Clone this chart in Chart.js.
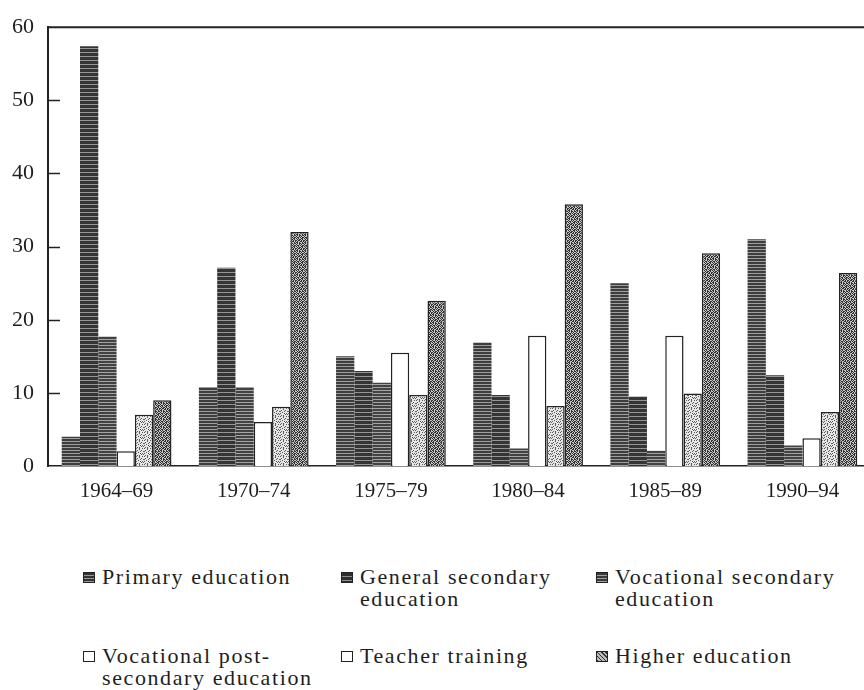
<!DOCTYPE html>
<html>
<head>
<meta charset="utf-8">
<script src="https://cdn.jsdelivr.net/npm/chart.js@4/dist/chart.umd.min.js"></script>
<style>
    html, body { margin: 0; padding: 0; background: #fff; overflow: hidden; }
    #wrap { position: relative; width: 864px; height: 690px; overflow: hidden; }
    #educationChart { position: absolute; left: 0; top: 0; }
    #legend { position: absolute; left: 0; top: 0; font-family: "Liberation Serif", "Times New Roman", serif;
              font-size: 22px; color: #1e1e1e; letter-spacing: 1.6px; }
    .item { position: absolute; line-height: 22px; white-space: nowrap; }
    .sw { position: absolute; left: 0; top: 6px; width: 12px; height: 11px; box-sizing: border-box; border: 1px solid #222; }
    .txt { position: absolute; left: 19px; top: 0; }
</style>
</head>
<body>
<div id="wrap">
    <canvas id="educationChart" width="880" height="510"></canvas>
    <div id="legend"></div>
</div>
<script>
const periods = ['1964–69', '1970–74', '1975–79', '1980–84', '1985–89', '1990–94'];
const seriesNames = [
    'Primary education',
    'General secondary\neducation',
    'Vocational secondary\neducation',
    'Vocational post-\nsecondary education',
    'Teacher training',
    'Higher education'
];
const primaryEdu      = [4, 10.8, 15, 16.9, 25, 31];
const generalSecEdu   = [57.4, 27.1, 13, 9.7, 9.5, 12.4];
const vocationalSec   = [17.7, 10.8, 11.4, 2.4, 2.1, 2.8];
const vocationalPost  = [2, 6, 15.5, 17.8, 17.8, 3.8];
const teacherTraining = [7, 8.1, 9.7, 8.2, 9.9, 7.4];
const higherEdu       = [9, 32, 22.6, 35.8, 29.1, 26.4];
const yTicks = [0, 10, 20, 30, 40, 50, 60];

// small tiles used as bar fills
function stripes(base, line, gap) {
    const c = document.createElement('canvas');
    c.width = 6; c.height = gap;
    const g = c.getContext('2d');
    g.fillStyle = base; g.fillRect(0, 0, 6, gap);
    g.fillStyle = line; g.fillRect(0, 0, 6, 1);
    return g.createPattern(c, 'repeat');
}

function speckle(base, dot, rows) {
    const c = document.createElement('canvas');
    c.width = rows[0].length; c.height = rows.length;
    const g = c.getContext('2d');
    g.fillStyle = base; g.fillRect(0, 0, c.width, c.height);
    g.fillStyle = dot;
    rows.forEach((r, j) => {
        for (let i = 0; i < r.length; i++) if (r[i] === '#') g.fillRect(i, j, 1, 1);
    });
    return g.createPattern(c, 'repeat');
}

const lightDots = ['#..#..#.', '...#....', '.#...#..', '#...#..#', '..#.....', '#...#.#.', '.....#.#', '.#.#....'];
const heavyDots = ['#.##.#.#', '.#..##.#', '##.#..#.', '.#.##.##', '#..#.#..', '.##.#.##', '#.#..##.', '.#.##.#.'];

const fills = [
    stripes('#3d3d3d', '#9e9e9e', 3),
    stripes('#353535', '#949494', 4),
    stripes('#424242', '#a4a4a4', 3),
    '#ffffff',
    speckle('#e6e6e6', '#5c5c5c', lightDots),
    speckle('#c4c4c4', '#333333', heavyDots)
];
const borders = [0, 0, 0, 1.5, 1.5, 1.5];
const seriesData = [primaryEdu, generalSecEdu, vocationalSec, vocationalPost, teacherTraining, higherEdu];

// top frame line and inward tick marks on the value axis
const frameLines = {
    id: 'frameLines',
    afterDatasetsDraw(chart) {
        const { ctx, chartArea, scales: { y } } = chart;
        ctx.save();
        ctx.strokeStyle = '#222';
        ctx.lineWidth = 2;
        ctx.beginPath();
        ctx.moveTo(chartArea.left, chartArea.top);
        ctx.lineTo(chartArea.right, chartArea.top);
        ctx.stroke();
        ctx.lineWidth = 1.5;
        ctx.beginPath();
        yTicks.forEach(v => {
            if (v === 0 || v === 60) return;
            const py = Math.round(y.getPixelForValue(v)) + 0.5;
            ctx.moveTo(chartArea.left, py);
            ctx.lineTo(chartArea.left + 12, py);
        });
        ctx.stroke();
        ctx.restore();
    }
};

const ctx = document.getElementById('educationChart').getContext('2d');
const educationChart = new Chart(ctx, {
    type: 'bar',
    data: {
        labels: periods,
        datasets: seriesData.map((d, i) => ({
            label: seriesNames[i].replace('\n', ' '),
            data: d,
            backgroundColor: fills[i],
            borderColor: '#222',
            borderWidth: borders[i],
            categoryPercentage: 0.8,
            barPercentage: 1.0
        }))
    },
    options: {
        responsive: false,
        animation: false,
        layout: { padding: { top: 14, right: 9, left: 0, bottom: 0 } },
        scales: {
            y: {
                min: 0,
                max: 60,
                afterFit: s => { s.width = 48; },
                afterBuildTicks: s => { s.ticks = yTicks.map(v => ({ value: v })); },
                ticks: {
                    color: '#1e1e1e',
                    padding: 14,
                    font: { family: '"Liberation Serif", serif', size: 22 }
                },
                grid: { display: false, drawTicks: false },
                border: { display: true, color: '#222', width: 2 }
            },
            x: {
                afterFit: s => { s.height = 44; },
                ticks: {
                    color: '#1e1e1e',
                    padding: 13,
                    font: { family: '"Liberation Serif", serif', size: 21 }
                },
                grid: { display: false, drawTicks: false },
                border: { display: true, color: '#222', width: 1.5 }
            }
        },
        plugins: {
            legend: { display: false },
            tooltip: { enabled: false }
        }
    },
    plugins: [frameLines]
});

// legend in three columns, two rows
const swatchCss = [
    'repeating-linear-gradient(#333 0 2px, #999 2px 3px)',
    'repeating-linear-gradient(#2e2e2e 0 3px, #8e8e8e 3px 4px)',
    'repeating-linear-gradient(#3b3b3b 0 2px, #a0a0a0 2px 3px)',
    '#fff',
    '#fff',
    'repeating-linear-gradient(45deg, #333 0 1px, #bbb 1px 3px)'
];
const legendCols = [83, 341, 596];
const legendRows = [566, 645];
const legend = document.getElementById('legend');
seriesNames.forEach((name, i) => {
    const item = document.createElement('div');
    item.className = 'item';
    item.style.left = legendCols[i % 3] + 'px';
    item.style.top = legendRows[Math.floor(i / 3)] + 'px';
    const sw = document.createElement('div');
    sw.className = 'sw';
    sw.style.background = swatchCss[i];
    const txt = document.createElement('div');
    txt.className = 'txt';
    txt.innerHTML = name.replace('\n', '<br>');
    item.appendChild(sw);
    item.appendChild(txt);
    legend.appendChild(item);
});
</script>
</body>
</html>
